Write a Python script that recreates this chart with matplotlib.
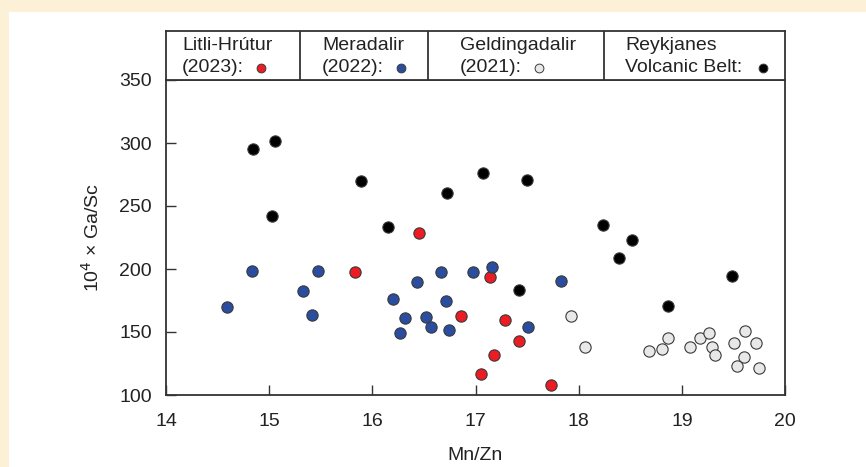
import matplotlib
matplotlib.use("Agg")
import matplotlib.pyplot as plt
from matplotlib.patches import Rectangle

plt.rcParams["font.family"] = ["Liberation Sans", "DejaVu Sans"]

# Litli-Hrútur (2023)
lh_x = [15.83, 16.45, 16.86, 17.05, 17.14, 17.18, 17.29, 17.42, 17.73]
lh_y = [197.6, 228.5, 162.8, 116.3, 193.9, 132.1, 159.6, 142.8, 107.6]

# Meradalir (2022)
me_x = [14.59, 14.83, 15.33, 15.42, 15.47, 16.20, 16.27, 16.32, 16.43,
        16.52, 16.57, 16.67, 16.71, 16.74, 16.98, 17.16, 17.51, 17.83]
me_y = [170.1, 198.4, 182.3, 163.8, 198.4, 176.2, 149.6, 161.0, 189.5,
        161.8, 154.1, 197.9, 174.7, 151.9, 197.6, 201.6, 154.1, 190.3]

# Geldingadalir (2021)
ge_x = [17.93, 18.06, 18.68, 18.81, 18.87, 19.08, 19.18, 19.26, 19.29,
        19.32, 19.51, 19.61, 19.72, 19.60, 19.53, 19.75]
ge_y = [163.0, 138.0, 134.8, 136.7, 145.6, 138.2, 145.4, 149.6, 138.0,
        132.1, 141.6, 150.7, 141.6, 129.8, 123.4, 121.1]

# Reykjanes Volcanic Belt
rv_x = [14.84, 15.06, 15.03, 15.89, 16.15, 16.72, 17.07, 17.50, 17.42,
        18.24, 18.39, 18.52, 18.87, 19.49]
rv_y = [295.0, 301.6, 241.7, 269.7, 233.5, 260.2, 275.8, 270.7, 183.1,
        234.6, 208.7, 223.2, 170.9, 194.2]

x_ticks = [14, 15, 16, 17, 18, 19, 20]
y_ticks = [100, 150, 200, 250, 300, 350]

groups = [
    ("Litli-Hrútur", "(2023):", "#ec1c24", lh_x, lh_y),
    ("Meradalir", "(2022):", "#2a4d9f", me_x, me_y),
    ("Geldingadalir", "(2021):", "#e8e8e8", ge_x, ge_y),
    ("Reykjanes", "Volcanic Belt:", "#000000", rv_x, rv_y),
]

FS = 14
W, H = 866, 467
fig = plt.figure(figsize=(W / 100, H / 100), dpi=100)
fig.patch.set_facecolor("#fcf1d6")
fig.patches.append(Rectangle((9 / W, 0), 1, 1 - 12 / H, transform=fig.transFigure,
                             facecolor="white", edgecolor="none", zorder=-5))

left, right, top, bottom = 166, 785, 80, 395
ax = fig.add_axes([left / W, 1 - bottom / H, (right - left) / W, (bottom - top) / H])
ax.set_facecolor("white")

for name, year, color, xs, ys in groups:
    ax.scatter(xs, ys, s=66, c=color, edgecolors="#3a3a3a", linewidths=0.8, zorder=3)

ax.set_xlim(14, 20)
ax.set_ylim(100, 350)
ax.set_xticks(x_ticks)
ax.set_yticks(y_ticks)
ax.tick_params(direction="in", length=7, width=1.0, labelsize=FS, color="#333333",
               labelcolor="#222222")
ax.tick_params(axis="x", pad=13)
ax.tick_params(axis="y", pad=10)
for sp in ax.spines.values():
    sp.set_linewidth(1.3)
    sp.set_color("#333333")
ax.set_xlabel("Mn/Zn", fontsize=FS, labelpad=12, color="#222222")
ax.set_ylabel("10$^4$ × Ga/Sc", fontsize=FS, labelpad=12, color="#222222")

# legend strip above the axes
lg_top = 31
lax = fig.add_axes([left / W, 1 - top / H, (right - left) / W, (top - lg_top) / H])
lax.set_xlim(left, right)
lax.set_ylim(top, lg_top)
lax.set_xticks([])
lax.set_yticks([])
for sp in lax.spines.values():
    sp.set_linewidth(1.3)
    sp.set_color("#333333")

dividers = [300, 428, 604]
for d in dividers:
    lax.axvline(d, color="#333333", lw=1.3)

text_x = [182, 322, 460, 625]
dot_x = [261, 401, 539, 763]
for (name, year, color, xs, ys), tx, dx in zip(groups, text_x, dot_x):
    lax.text(tx, 45, name, fontsize=FS, va="center", ha="left", color="#222222")
    lax.text(tx, 68, year, fontsize=FS, va="center", ha="left", color="#222222")
    lax.scatter([dx], [68], s=40, c=color, edgecolors="#3a3a3a", linewidths=0.7, zorder=3)

fig.savefig("out.png", dpi=100, facecolor=fig.get_facecolor())
